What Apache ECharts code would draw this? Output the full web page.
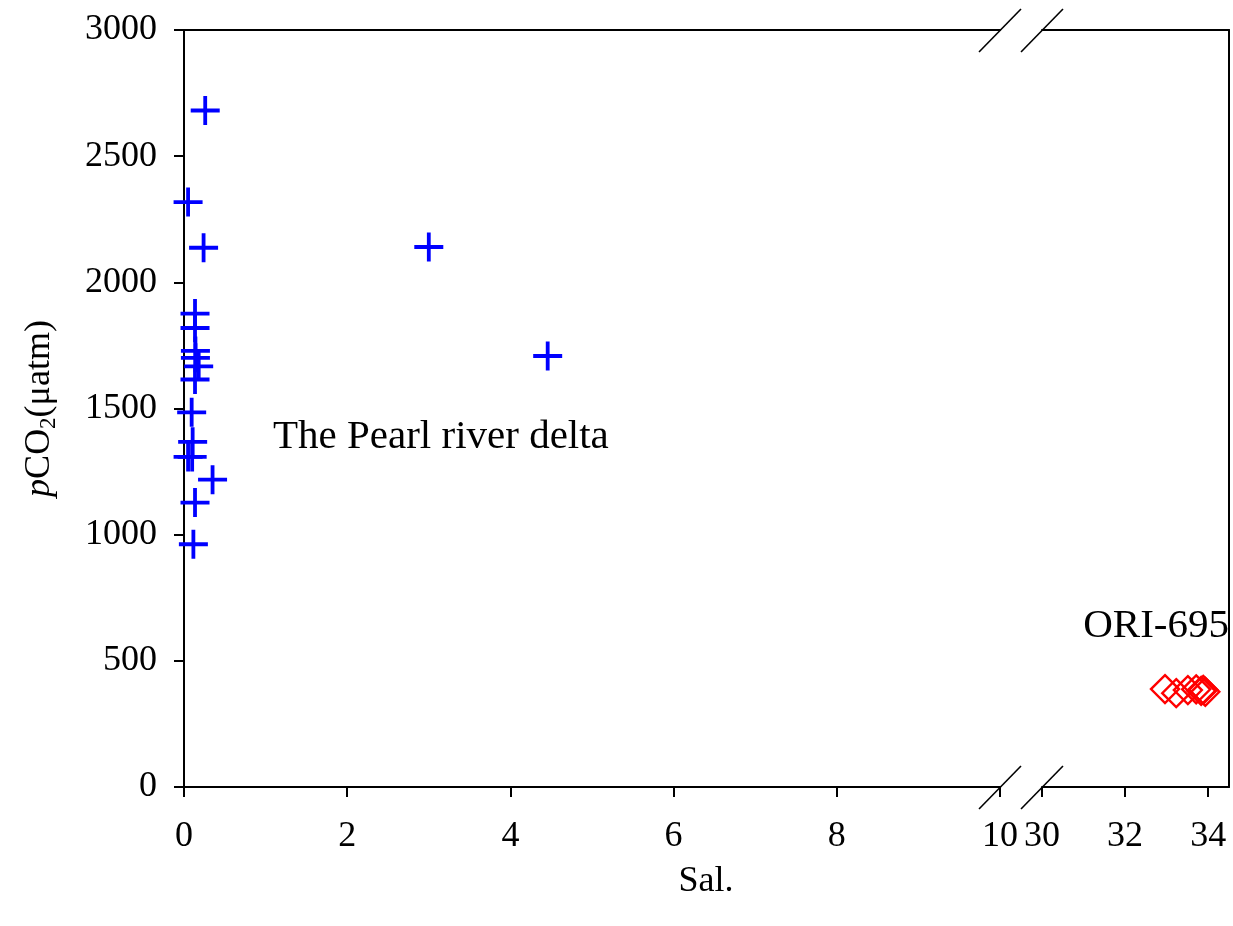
<!DOCTYPE html>
<html>
<head>
<meta charset="utf-8">
<title>pCO2 vs Sal.</title>
<style type="text/css">
	html,body{margin:0;padding:0;background:#fff;}
	#main{width:1233px;height:926px;}
</style>
</head>
<body>
<div id="main"></div>
<script src="https://cdn.jsdelivr.net/npm/echarts@6/dist/echarts.min.js"></script>
<script type="text/javascript">
	// Pearl river delta stations (blue crosses)
	var pearlSal = [0.26, 0.05, 0.24, 0.135, 0.135, 0.14, 0.14, 0.18, 0.135, 0.094, 0.106, 0.05, 0.10, 0.35, 0.135, 0.115, 3.0, 4.457];
	var pearlPco2 = [2681, 2318, 2137, 1876, 1819, 1728, 1701, 1667, 1615, 1485, 1368, 1308, 1308, 1218, 1127, 962, 2140, 1708];
	// ORI-695 stations (red diamonds)
	var oriSal = [32.96, 33.23, 33.51, 33.71, 33.83, 33.93, 33.88];
	var oriPco2 = [388, 372, 384, 387, 381, 377, 385];
	// axis ranges / ticks
	var yTicks = [0, 3000, 500];
	var xLeft = [0, 10, 2];
	var xRight = [30, 34.5, 2];

	var font = "'Liberation Serif','Times New Roman',serif";
	var cross = 'path://M0,12.6H12.6V0H16.4V12.6H29V16.4H16.4V29H12.6V16.4H0Z';

	function pairs(xs, ys){
		var out = [];
		for(var i = 0; i < xs.length; i++){ out.push([xs[i], ys[i]]); }
		return out;
	}

	var chart = echarts.init(document.getElementById('main'));
	var lineStyle = {color: '#000', width: 2};

	var option = {
		animation: false,
		backgroundColor: '#fff',
		grid: [
			{left: 184, top: 30, width: 816, height: 757},
			{left: 1042, top: 30, width: 187, height: 757}
		],
		xAxis: [
			{gridIndex: 0, type: 'value', min: xLeft[0], max: xLeft[1], interval: xLeft[2],
				axisLine: {show: true, onZero: false, lineStyle: lineStyle},
				axisTick: {show: true, length: 10, lineStyle: lineStyle},
				axisLabel: {margin: 32, color: '#000', fontFamily: font, fontSize: 36},
				splitLine: {show: false}},
			{gridIndex: 1, type: 'value', min: xRight[0], max: xRight[1], interval: xRight[2],
				axisLine: {show: true, onZero: false, lineStyle: lineStyle},
				axisTick: {show: true, length: 10, lineStyle: lineStyle},
				axisLabel: {margin: 32, color: '#000', fontFamily: font, fontSize: 36, showMaxLabel: false},
				splitLine: {show: false}},
			{gridIndex: 0, type: 'value', position: 'top', min: xLeft[0], max: xLeft[1],
				axisLine: {show: true, onZero: false, lineStyle: lineStyle},
				axisTick: {show: false}, axisLabel: {show: false}, splitLine: {show: false}},
			{gridIndex: 1, type: 'value', position: 'top', min: xRight[0], max: xRight[1],
				axisLine: {show: true, onZero: false, lineStyle: lineStyle},
				axisTick: {show: false}, axisLabel: {show: false}, splitLine: {show: false}}
		],
		yAxis: [
			{gridIndex: 0, type: 'value', min: yTicks[0], max: yTicks[1], interval: yTicks[2],
				axisLine: {show: true, onZero: false, lineStyle: lineStyle},
				axisTick: {show: true, length: 10, lineStyle: lineStyle},
				axisLabel: {margin: 27, color: '#000', fontFamily: font, fontSize: 36,
					formatter: function(v){ return String(v); }},
				splitLine: {show: false},
				name: '{i|p}CO{s|2}(μatm)',
				nameLocation: 'middle', nameRotate: 90, nameGap: 124,
				nameTextStyle: {color: '#000', fontFamily: font, fontSize: 36,
					rich: {
						i: {fontFamily: font, fontSize: 36, fontStyle: 'italic', color: '#000'},
						s: {fontFamily: font, fontSize: 23, color: '#000', padding: [18, 0, 0, 0]}
					}}},
			{gridIndex: 1, type: 'value', position: 'right', min: yTicks[0], max: yTicks[1],
				axisLine: {show: true, onZero: false, lineStyle: lineStyle},
				axisTick: {show: false}, axisLabel: {show: false}, splitLine: {show: false}}
		],
		series: [
			{type: 'scatter', xAxisIndex: 0, yAxisIndex: 0, symbol: cross, symbolSize: 29,
				itemStyle: {color: '#0000ff', opacity: 1}, data: pairs(pearlSal, pearlPco2)},
			{type: 'scatter', xAxisIndex: 1, yAxisIndex: 1, symbol: 'diamond', symbolSize: 28,
				itemStyle: {color: 'rgba(0,0,0,0)', borderColor: '#ff0000', borderWidth: 2.4, opacity: 1},
				data: pairs(oriSal, oriPco2)}
		]
	};
	chart.setOption(option);

	// break marks and annotations
	var xa = chart.convertToPixel({xAxisIndex: 0}, xLeft[1]);
	var xb = chart.convertToPixel({xAxisIndex: 1}, xRight[0]);
	var yTop = chart.convertToPixel({yAxisIndex: 0}, yTicks[1]);
	var yBot = chart.convertToPixel({yAxisIndex: 0}, yTicks[0]);
	var marks = [];
	[xa, xb].forEach(function(cx){
		[yTop, yBot].forEach(function(cy){
			marks.push({type: 'line', shape: {x1: cx - 21, y1: cy + 22, x2: cx + 21, y2: cy - 21},
				style: {stroke: '#000', lineWidth: 1.6}});
		});
	});
	marks.push({type: 'text', x: 273, y: 437,
		style: {text: 'The Pearl river delta', fill: '#000', font: '41px ' + font, verticalAlign: 'middle'}});
	marks.push({type: 'text', x: 1229, y: 626,
		style: {text: 'ORI-695', fill: '#000', font: '41px ' + font, align: 'right', verticalAlign: 'middle'}});
	marks.push({type: 'text', x: 706, y: 882,
		style: {text: 'Sal.', fill: '#000', font: '36px ' + font, align: 'center', verticalAlign: 'middle'}});
	chart.setOption({graphic: marks});
</script>
</body>
</html>
